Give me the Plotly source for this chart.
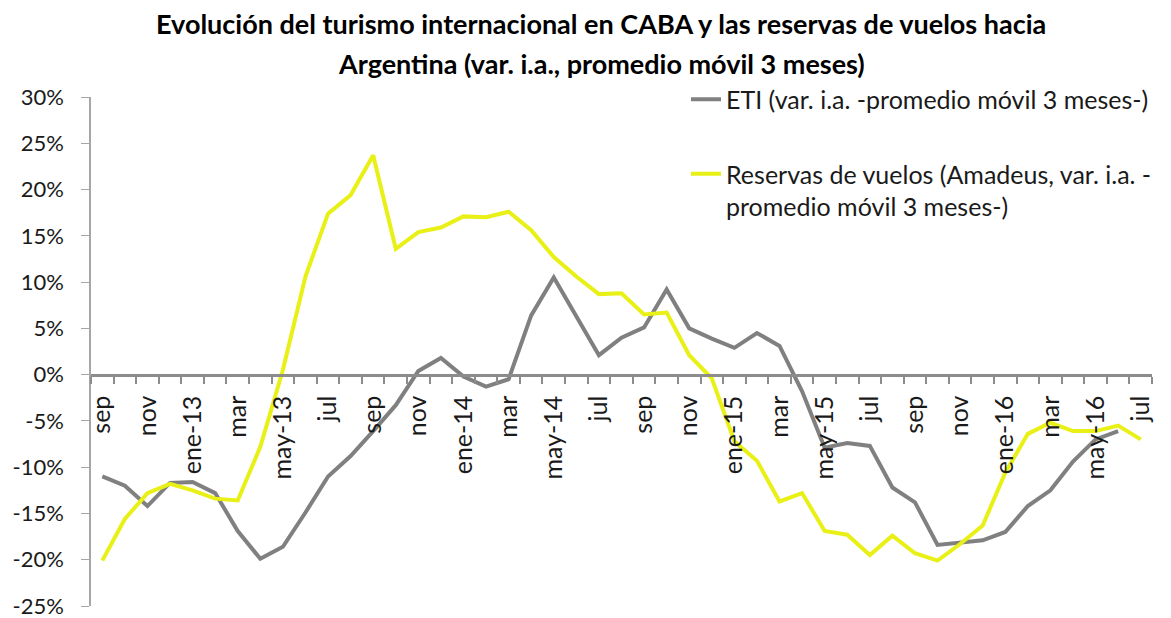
import plotly.graph_objects as go

months = ["sep-12", "oct-12", "nov-12", "dic-12", "ene-13", "feb-13", "mar-13", "abr-13",
          "may-13", "jun-13", "jul-13", "ago-13", "sep-13", "oct-13", "nov-13", "dic-13",
          "ene-14", "feb-14", "mar-14", "abr-14", "may-14", "jun-14", "jul-14", "ago-14",
          "sep-14", "oct-14", "nov-14", "dic-14", "ene-15", "feb-15", "mar-15", "abr-15",
          "may-15", "jun-15", "jul-15", "ago-15", "sep-15", "oct-15", "nov-15", "dic-15",
          "ene-16", "feb-16", "mar-16", "abr-16", "may-16", "jun-16", "jul-16"]

tick_labels = ["sep", "nov", "ene-13", "mar", "may-13", "jul", "sep", "nov", "ene-14", "mar",
               "may-14", "jul", "sep", "nov", "ene-15", "mar", "may-15", "jul", "sep", "nov",
               "ene-16", "mar", "may-16", "jul"]

eti = [-11.0, -12.0, -14.2, -11.7, -11.6, -12.8, -16.9, -19.9, -18.6, -14.9, -11.0, -8.8,
       -6.1, -3.3, 0.4, 1.8, -0.2, -1.3, -0.5, 6.4, 10.5, 6.4, 2.1, 4.0,
       5.1, 9.2, 5.0, 3.9, 2.9, 4.5, 3.1, -1.8, -7.9, -7.4, -7.7, -12.2,
       -13.8, -18.4, -18.2, -17.9, -17.0, -14.2, -12.5, -9.4, -7.0, -6.1]

reservas = [-20.1, -15.6, -12.8, -11.8, -12.5, -13.4, -13.6, -7.8, 0.5, 10.6, 17.4, 19.4,
            23.7, 13.6, 15.4, 15.9, 17.1, 17.0, 17.6, 15.6, 12.7, 10.6, 8.7, 8.8,
            6.5, 6.7, 2.1, -0.4, -7.2, -9.3, -13.7, -12.8, -16.9, -17.3, -19.5, -17.4,
            -19.3, -20.1, -18.3, -16.3, -10.6, -6.4, -5.2, -6.1, -6.1, -5.5, -7.0]

y_ticks = [30, 25, 20, 15, 10, 5, 0, -5, -10, -15, -20, -25]
y_tick_labels = ["30%", "25%", "20%", "15%", "10%", "5%", "0%", "-5%", "-10%", "-15%", "-20%", "-25%"]

title_line1 = "Evolución del turismo internacional en CABA y las reservas de vuelos hacia"
title_line2 = "Argentina (var. i.a., promedio móvil 3 meses)"

idx = list(range(len(months)))

FONT = "Lato, 'DejaVu Sans', sans-serif"
GRAY = "#808080"
YELLOW = "#E8F016"
TXT = "#1a1a1a"

fig = go.Figure()
fig.add_trace(go.Scatter(
    x=idx[:len(eti)], y=eti, mode="lines",
    name="ETI (var. i.a. -promedio móvil 3 meses-)",
    line=dict(color=GRAY, width=4), legendgroup="a",
    customdata=months[:len(eti)], hovertemplate="%{customdata}: %{y:.1f}%<extra></extra>"))
fig.add_trace(go.Scatter(
    x=idx, y=reservas, mode="lines",
    name="Reservas de vuelos (Amadeus, var. i.a. -<br>promedio móvil 3 meses-)",
    line=dict(color=YELLOW, width=4), legendgroup="b",
    customdata=months, hovertemplate="%{customdata}: %{y:.1f}%<extra></extra>"))

TOP = 89
BOTTOM = 12
FIG_H = 610
PLOT_H = FIG_H - TOP - BOTTOM
fig.update_layout(
    width=1163, height=FIG_H,
    margin=dict(l=83, r=19, t=TOP, b=BOTTOM, autoexpand=False),
    paper_bgcolor="white", plot_bgcolor="white",
    font=dict(family=FONT, size=25, color=TXT),
    showlegend=True,
    legend=dict(x=0.5608, y=1 + 20.5 / PLOT_H, xanchor="left", yanchor="top",
                font=dict(size=25, color=TXT),
                traceorder="grouped", tracegroupgap=39, valign="top",
                bgcolor="rgba(0,0,0,0)"),
    xaxis=dict(
        range=[-0.5, len(months) - 0.5],
        tickmode="array", tickvals=idx[::2], ticktext=tick_labels,
        tickangle=-90, ticks="", ticklabelstandoff=9,
        showline=True, linecolor="#8C8C8C", linewidth=3,
        showgrid=False, zeroline=False, automargin=False,
        anchor="free", position=25 / 55,
        minor=dict(ticks="outside", tickmode="linear", tick0=-0.5, dtick=1,
                   ticklen=7, tickwidth=2, tickcolor="#8C8C8C", showgrid=False),
        tickfont=dict(size=25, color=TXT),
    ),
    yaxis=dict(
        range=[-25, 30], tickmode="array", tickvals=y_ticks, ticktext=y_tick_labels,
        ticks="outside", ticklen=8, tickcolor="#A6A6A6", tickwidth=1,
        showline=True, linecolor="#A6A6A6", linewidth=1.5,
        showgrid=False, zeroline=False, ticklabelstandoff=13, automargin=False,
        ticklabeloverflow="allow",
        tickfont=dict(size=22, color=TXT),
    ),
    annotations=[
        dict(text="<b>" + title_line1 + "</b>", xref="paper", yref="paper",
             x=0.4807, y=1 + (TOP - 16) / PLOT_H, xanchor="center", yanchor="middle",
             showarrow=False, font=dict(size=27, color="#000000", family=FONT)),
        dict(text="<b>" + title_line2 + "</b>", xref="paper", yref="paper",
             x=0.4807, y=1 + (TOP - 56) / PLOT_H, xanchor="center", yanchor="middle",
             showarrow=False, font=dict(size=27, color="#000000", family=FONT)),
    ],
)

fig.write_html("out.html")
